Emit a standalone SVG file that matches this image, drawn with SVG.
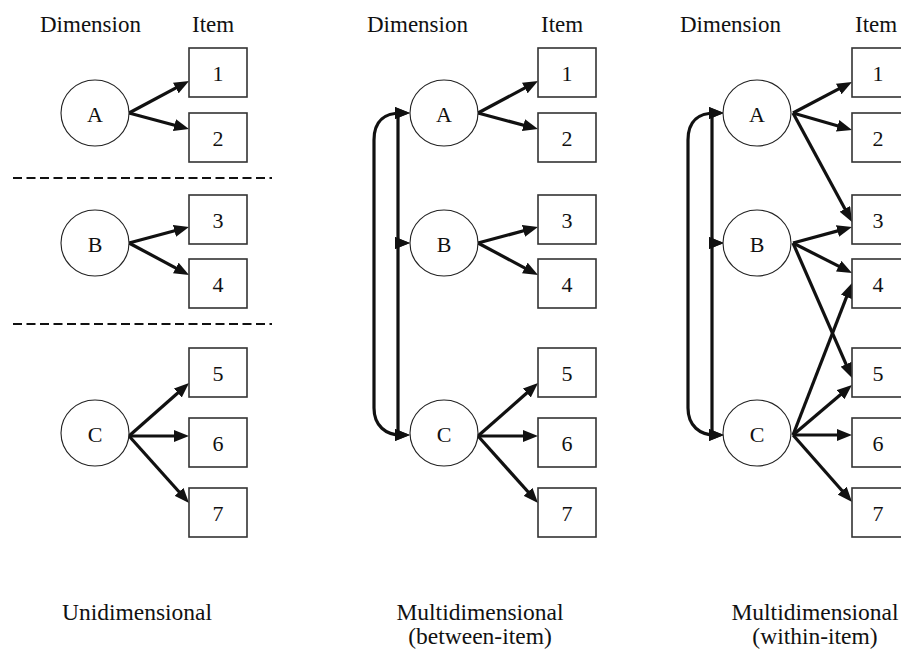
<svg xmlns="http://www.w3.org/2000/svg" width="901" height="653" viewBox="0 0 901 653">
  <style>
    text { font-family: "Liberation Serif", "Times New Roman", serif; fill: #111; }
    .hdr { font-size: 23px; }
    .cap { font-size: 23.5px; text-anchor: middle; }
    .lbl { font-size: 22px; text-anchor: middle; dominant-baseline: central; }
    .dim ellipse { fill: #fff; stroke: #222; stroke-width: 1.1; }
    .item rect { fill: #fff; stroke: #333; stroke-width: 1.6; }
    .arr { fill: none; stroke: #111; stroke-width: 3.2; marker-end: url(#head); }
    .corr { fill: none; stroke: #111; stroke-width: 3.2; marker-start: url(#head); marker-end: url(#head); }
    .sep { stroke: #111; stroke-width: 2.2; stroke-dasharray: 9 4.5; }
  </style>
  <defs>
    <marker id="head" markerUnits="userSpaceOnUse" viewBox="0 0 15 12" markerWidth="15" markerHeight="12" refX="6" refY="6" orient="auto-start-reverse">
      <path d="M0,0 L15,6 L0,12 z" fill="#111"/>
    </marker>
  </defs>

  <rect width="901" height="653" fill="#fff"/>

  <!-- column headings -->
  <g id="headings">
    <text class="hdr" x="40" y="32">Dimension</text>
    <text class="hdr" x="192" y="32">Item</text>
    <text class="hdr" x="367" y="32">Dimension</text>
    <text class="hdr" x="541" y="32">Item</text>
    <text class="hdr" x="680" y="32">Dimension</text>
    <text class="hdr" x="855" y="32">Item</text>
  </g>

  <!-- separators in the unidimensional panel -->
  <g id="separators">
    <line class="sep" x1="13" y1="178" x2="272" y2="178"/>
    <line class="sep" x1="13" y1="324" x2="272" y2="324"/>
  </g>

  <!-- connectors -->
  <g id="connectors">
    <!-- unidimensional -->
    <line class="arr" x1="129" y1="113" x2="181.1" y2="85.2"/>
    <line class="arr" x1="129" y1="113" x2="180.3" y2="126.7"/>
    <line class="arr" x1="129" y1="243" x2="180.3" y2="229.3"/>
    <line class="arr" x1="129" y1="243" x2="181.1" y2="270.8"/>
    <line class="arr" x1="129" y1="436" x2="182.3" y2="389.0"/>
    <line class="arr" x1="129" y1="436" x2="180" y2="436"/>
    <line class="arr" x1="129" y1="436" x2="183.0" y2="496.3"/>

    <!-- between-item -->
    <line class="arr" x1="478" y1="113" x2="530.1" y2="85.2"/>
    <line class="arr" x1="478" y1="113" x2="529.3" y2="126.7"/>
    <line class="arr" x1="478" y1="243" x2="529.3" y2="229.3"/>
    <line class="arr" x1="478" y1="243" x2="530.1" y2="270.8"/>
    <line class="arr" x1="478" y1="436" x2="531.3" y2="389.0"/>
    <line class="arr" x1="478" y1="436" x2="529" y2="436"/>
    <line class="arr" x1="478" y1="436" x2="532.0" y2="496.3"/>
    <!-- correlations: A-C (outer), A-B and B-C (inner) -->
    <path class="corr" d="M401,113 C386,113 374,120 374,140 L374,408 C374,426 386,435 401,435"/>
    <path class="corr" d="M401,113 Q398,113 398,119 L398,237 Q398,243 401,243"/>
    <path class="corr" d="M401,243 Q398,243 398,249 L398,429 Q398,435 401,435"/>

    <!-- within-item -->
    <line class="arr" x1="793" y1="113" x2="844.0" y2="86.2"/>
    <line class="arr" x1="793" y1="113" x2="843.4" y2="127.5"/>
    <line class="arr" x1="793" y1="113" x2="847.7" y2="214.1"/>
    <line class="arr" x1="793" y1="243" x2="843.3" y2="229.4"/>
    <line class="arr" x1="793" y1="243" x2="844.0" y2="268.9"/>
    <line class="arr" x1="793" y1="243" x2="848.4" y2="369.7"/>
    <line class="arr" x1="793" y1="435" x2="848.7" y2="291.4"/>
    <line class="arr" x1="793" y1="435" x2="845.1" y2="390.8"/>
    <line class="arr" x1="793" y1="435" x2="843" y2="435"/>
    <line class="arr" x1="793" y1="435" x2="846.1" y2="495.2"/>
    <!-- correlations: A-C (outer), A-B and B-C (inner) -->
    <path class="corr" d="M715,113 C700,113 688,120 688,140 L688,408 C688,426 700,435 715,435"/>
    <path class="corr" d="M715,113 Q712,113 712,119 L712,237 Q712,243 715,243"/>
    <path class="corr" d="M715,243 Q712,243 712,249 L712,429 Q712,435 715,435"/>
  </g>

  <!-- unidimensional panel -->
  <g id="u-A" class="dim"><ellipse cx="95" cy="113" rx="34" ry="33"/><text class="lbl" x="95" y="114">A</text></g>
  <g id="u-B" class="dim"><ellipse cx="95" cy="243" rx="34" ry="33"/><text class="lbl" x="95" y="244">B</text></g>
  <g id="u-C" class="dim"><ellipse cx="95" cy="433" rx="34" ry="33"/><text class="lbl" x="95" y="434">C</text></g>
  <g id="u-1" class="item"><rect x="189" y="48" width="58" height="49"/><text class="lbl" x="218" y="73">1</text></g>
  <g id="u-2" class="item"><rect x="189" y="113" width="58" height="49"/><text class="lbl" x="218" y="138">2</text></g>
  <g id="u-3" class="item"><rect x="189" y="195" width="58" height="49"/><text class="lbl" x="218" y="220">3</text></g>
  <g id="u-4" class="item"><rect x="189" y="259" width="58" height="49"/><text class="lbl" x="218" y="284">4</text></g>
  <g id="u-5" class="item"><rect x="189" y="348" width="58" height="49"/><text class="lbl" x="218" y="373">5</text></g>
  <g id="u-6" class="item"><rect x="189" y="418" width="58" height="49"/><text class="lbl" x="218" y="443">6</text></g>
  <g id="u-7" class="item"><rect x="189" y="488" width="58" height="49"/><text class="lbl" x="218" y="513">7</text></g>

  <!-- between-item panel -->
  <g id="b-A" class="dim"><ellipse cx="444" cy="113" rx="34" ry="33"/><text class="lbl" x="444" y="114">A</text></g>
  <g id="b-B" class="dim"><ellipse cx="444" cy="243" rx="34" ry="33"/><text class="lbl" x="444" y="244">B</text></g>
  <g id="b-C" class="dim"><ellipse cx="444" cy="433" rx="34" ry="33"/><text class="lbl" x="444" y="434">C</text></g>
  <g id="b-1" class="item"><rect x="538" y="48" width="58" height="49"/><text class="lbl" x="567" y="73">1</text></g>
  <g id="b-2" class="item"><rect x="538" y="113" width="58" height="49"/><text class="lbl" x="567" y="138">2</text></g>
  <g id="b-3" class="item"><rect x="538" y="195" width="58" height="49"/><text class="lbl" x="567" y="220">3</text></g>
  <g id="b-4" class="item"><rect x="538" y="259" width="58" height="49"/><text class="lbl" x="567" y="284">4</text></g>
  <g id="b-5" class="item"><rect x="538" y="348" width="58" height="49"/><text class="lbl" x="567" y="373">5</text></g>
  <g id="b-6" class="item"><rect x="538" y="418" width="58" height="49"/><text class="lbl" x="567" y="443">6</text></g>
  <g id="b-7" class="item"><rect x="538" y="488" width="58" height="49"/><text class="lbl" x="567" y="513">7</text></g>

  <!-- within-item panel -->
  <g id="w-A" class="dim"><ellipse cx="757" cy="113" rx="34" ry="33"/><text class="lbl" x="757" y="114">A</text></g>
  <g id="w-B" class="dim"><ellipse cx="757" cy="243" rx="34" ry="33"/><text class="lbl" x="757" y="244">B</text></g>
  <g id="w-C" class="dim"><ellipse cx="757" cy="433" rx="34" ry="33"/><text class="lbl" x="757" y="434">C</text></g>
  <g id="w-1" class="item"><rect x="852" y="48" width="58" height="49"/><text class="lbl" x="878" y="73">1</text></g>
  <g id="w-2" class="item"><rect x="852" y="113" width="58" height="49"/><text class="lbl" x="878" y="138">2</text></g>
  <g id="w-3" class="item"><rect x="852" y="195" width="58" height="49"/><text class="lbl" x="878" y="220">3</text></g>
  <g id="w-4" class="item"><rect x="852" y="259" width="58" height="49"/><text class="lbl" x="878" y="284">4</text></g>
  <g id="w-5" class="item"><rect x="852" y="348" width="58" height="49"/><text class="lbl" x="878" y="373">5</text></g>
  <g id="w-6" class="item"><rect x="852" y="418" width="58" height="49"/><text class="lbl" x="878" y="443">6</text></g>
  <g id="w-7" class="item"><rect x="852" y="488" width="58" height="49"/><text class="lbl" x="878" y="513">7</text></g>

  <!-- panel captions -->
  <g id="captions">
    <text class="cap" x="137" y="620">Unidimensional</text>
    <text class="cap" x="480" y="620">Multidimensional</text>
    <text class="cap" x="480" y="644">(between-item)</text>
    <text class="cap" x="815" y="620">Multidimensional</text>
    <text class="cap" x="815" y="644">(within-item)</text>
  </g>
</svg>
